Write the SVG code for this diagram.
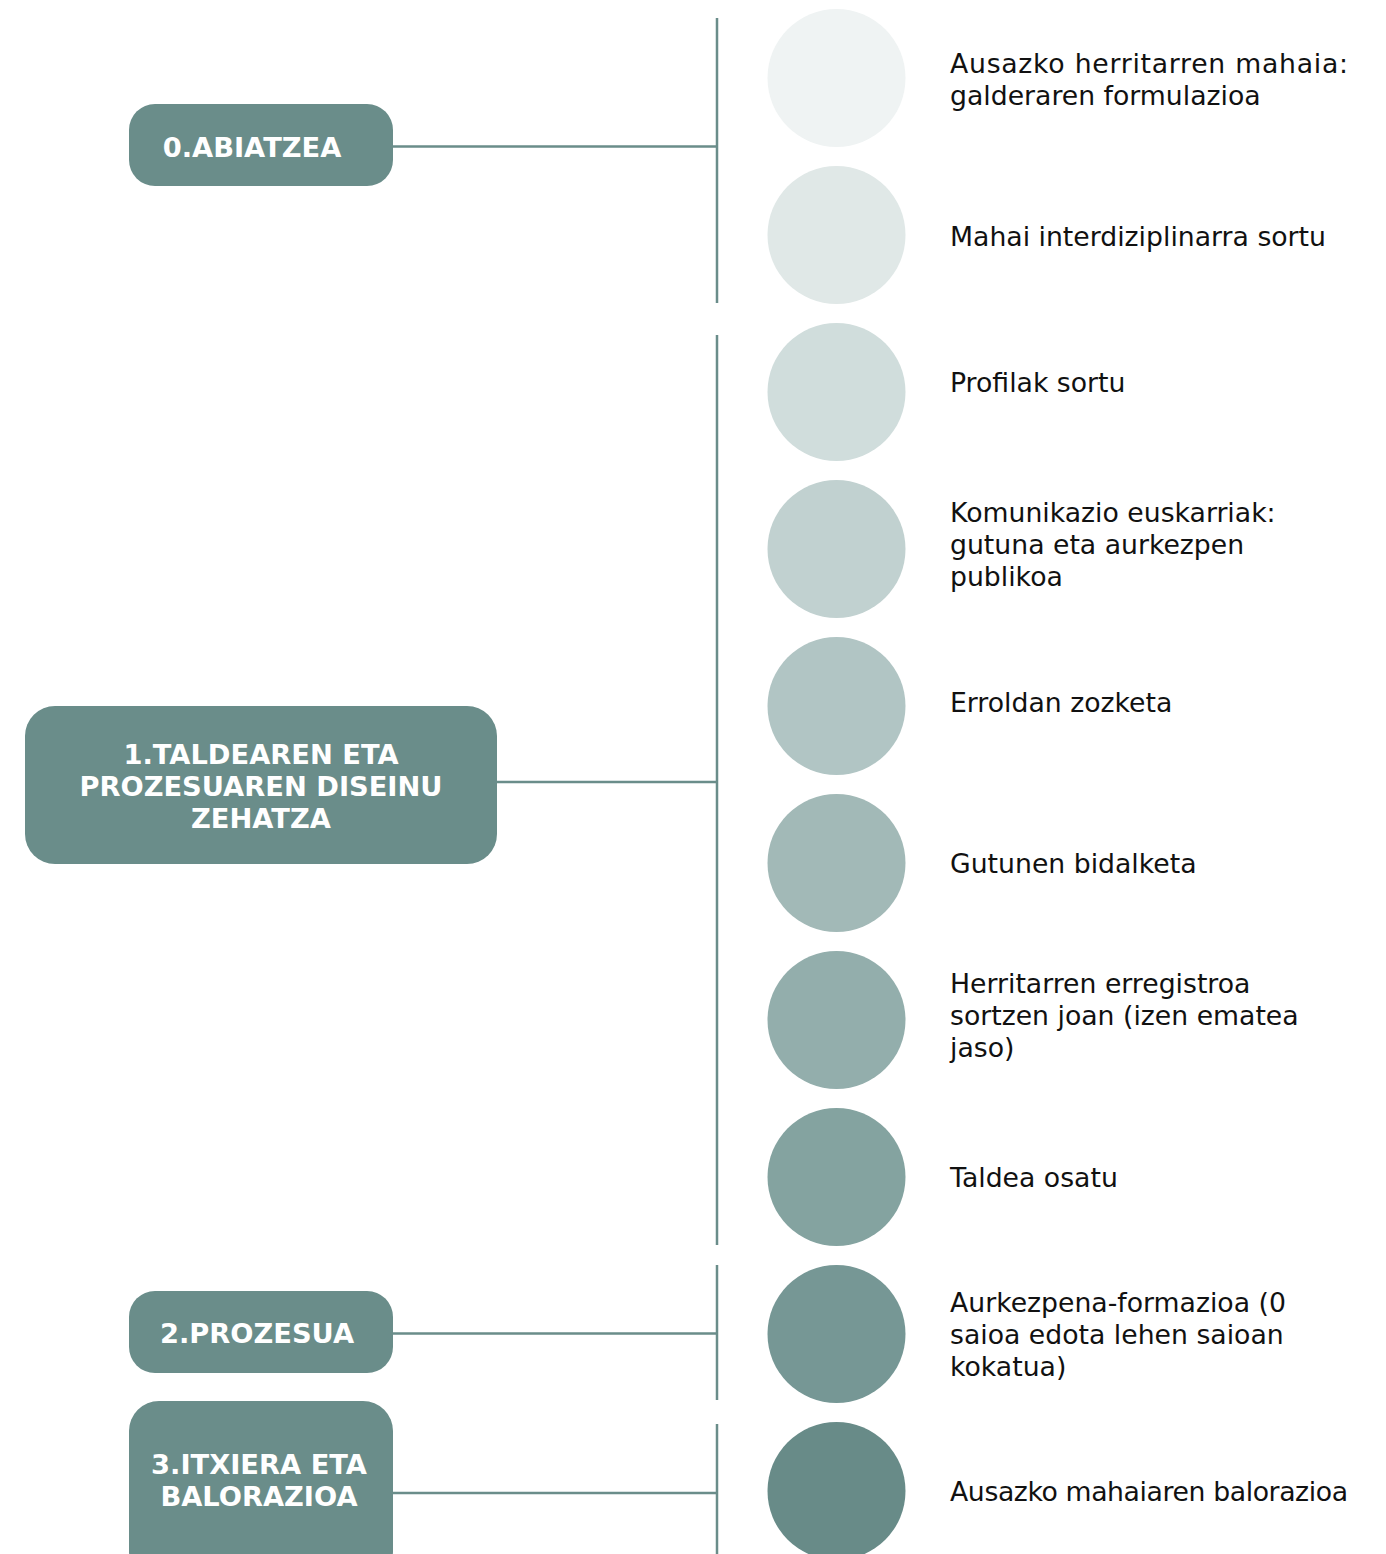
<svg xmlns="http://www.w3.org/2000/svg" width="1386" height="1554" viewBox="0 0 1386 1554">
<style>
.box{fill:#6a8d8a}
.bt{font-family:"DejaVu Sans",Verdana,sans-serif;font-weight:bold;font-size:27.3px;fill:#ffffff;text-anchor:middle}
.lt{font-family:"DejaVu Sans",Verdana,sans-serif;font-size:26.7px;fill:#111111}
.ln{stroke:#6a8d8a;stroke-width:2.5;fill:none}
</style>
<rect width="1386" height="1554" fill="#ffffff"/>
<g id="connectors">
<line class="ln" x1="717" y1="18" x2="717" y2="303"/>
<line class="ln" x1="717" y1="335" x2="717" y2="1245"/>
<line class="ln" x1="717" y1="1265" x2="717" y2="1400"/>
<line class="ln" x1="717" y1="1424" x2="717" y2="1554"/>
<line class="ln" x1="393" y1="146.5" x2="717" y2="146.5"/>
<line class="ln" x1="497" y1="782" x2="717" y2="782"/>
<line class="ln" x1="393" y1="1333.5" x2="717" y2="1333.5"/>
<line class="ln" x1="393" y1="1493" x2="717" y2="1493"/>
</g>
<g id="phase0">
<rect class="box" x="129" y="104" width="264" height="82" rx="26"/>
<text class="bt" x="252" y="157">0.ABIATZEA</text>
</g>
<g id="phase1">
<rect class="box" x="25" y="706" width="472" height="158" rx="30"/>
<text class="bt" x="261" y="764">1.TALDEAREN ETA</text>
<text class="bt" x="261" y="796">PROZESUAREN DISEINU</text>
<text class="bt" x="261" y="828">ZEHATZA</text>
</g>
<g id="phase2">
<rect class="box" x="129" y="1291" width="264" height="82" rx="26"/>
<text class="bt" x="257" y="1343">2.PROZESUA</text>
</g>
<g id="phase3">
<rect class="box" x="129" y="1401" width="264" height="180" rx="30"/>
<text class="bt" x="259" y="1474">3.ITXIERA ETA</text>
<text class="bt" x="259" y="1506">BALORAZIOA</text>
</g>
<g id="step1"><circle cx="836.5" cy="78" r="69" fill="#eff3f3"/>
<text class="lt" x="950" y="73" textLength="398" lengthAdjust="spacing">Ausazko herritarren mahaia:</text>
<text class="lt" x="950" y="105">galderaren formulazioa</text></g>
<g id="step2"><circle cx="836.5" cy="235" r="69" fill="#e0e8e7"/>
<text class="lt" x="950" y="246">Mahai interdiziplinarra sortu</text></g>
<g id="step3"><circle cx="836.5" cy="392" r="69" fill="#d0dddc"/>
<text class="lt" x="950" y="392">Profilak sortu</text></g>
<g id="step4"><circle cx="836.5" cy="549" r="69" fill="#c1d1d0"/>
<text class="lt" x="950" y="522">Komunikazio euskarriak:</text>
<text class="lt" x="950" y="554">gutuna eta aurkezpen</text>
<text class="lt" x="950" y="586">publikoa</text></g>
<g id="step5"><circle cx="836.5" cy="706" r="69" fill="#b1c5c4"/>
<text class="lt" x="950" y="712">Erroldan zozketa</text></g>
<g id="step6"><circle cx="836.5" cy="863" r="69" fill="#a2b9b7"/>
<text class="lt" x="950" y="873">Gutunen bidalketa</text></g>
<g id="step7"><circle cx="836.5" cy="1020" r="69" fill="#93aeac"/>
<text class="lt" x="950" y="993">Herritarren erregistroa</text>
<text class="lt" x="950" y="1025">sortzen joan (izen ematea</text>
<text class="lt" x="950" y="1057">jaso)</text></g>
<g id="step8"><circle cx="836.5" cy="1177" r="69" fill="#84a3a0"/>
<text class="lt" x="950" y="1187">Taldea osatu</text></g>
<g id="step9"><circle cx="836.5" cy="1334" r="69" fill="#769795"/>
<text class="lt" x="950" y="1312">Aurkezpena-formazioa (0</text>
<text class="lt" x="950" y="1344">saioa edota lehen saioan</text>
<text class="lt" x="950" y="1376">kokatua)</text></g>
<g id="step10"><circle cx="836.5" cy="1491" r="69" fill="#688b88"/>
<text class="lt" x="950" y="1501" textLength="398" lengthAdjust="spacing">Ausazko mahaiaren balorazioa</text></g>
</svg>
